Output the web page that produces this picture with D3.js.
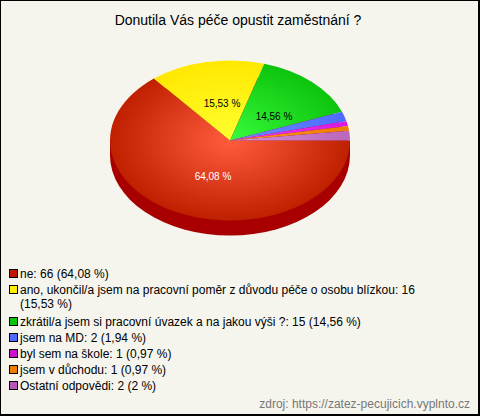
<!DOCTYPE html>
<html><head><meta charset="utf-8">
<script src="https://cdn.jsdelivr.net/npm/d3@7"></script>
<style>html,body{margin:0;padding:0;background:#f5f5ee}svg{display:block}text{font-family:"Liberation Sans",Arial,sans-serif}</style>
</head><body><svg id="c" width="480" height="416"></svg>
<script>
const titleText = "Donutila Vás péče opustit zaměstnání ?";
const counts = [66, 16, 15, 2, 1, 1, 2];
const percents = ["64,08 %", "15,53 %", "14,56 %", "1,94 %", "0,97 %", "0,97 %", "2 %"];
const legendLines = [
  ["ne: 66 (64,08 %)"],
  ["ano, ukončil/a jsem na pracovní poměr z důvodu péče o osobu blízkou: 16", "(15,53 %)"],
  ["zkrátil/a jsem si pracovní úvazek a na jakou výši ?: 15 (14,56 %)"],
  ["jsem  na MD: 2 (1,94 %)"],
  ["byl sem na škole: 1 (0,97 %)"],
  ["jsem  v důchodu: 1 (0,97 %)"],
  ["Ostatní odpovědi: 2 (2 %)"]
];
const innerColors = ["#ff5c3e", "#ffff30", "#38fb3c", "#6c8cff", "#f040f8", "#ff9a20", "#d890d8"];
const outerColors = ["#bf2000", "#ffe800", "#0cc40c", "#4c6cff", "#d818e0", "#ee7c00", "#bb66bb"];
const swatchColors = ["#bf1800", "#ffee00", "#0cc40c", "#4c6cff", "#cc10cc", "#ee7c00", "#bb55bb"];
const sideColor = "#a80000";
const sourceText = "zdroj: https://zatez-pecujicich.vyplnto.cz";

const svg = d3.select("#c");
const W = 480, H = 416, cx = 230, cy = 140.5, rx = 120, ry = 80, depth = 15;
svg.append("rect").attr("x",0.5).attr("y",0.5).attr("width",W-1.5).attr("height",H-1.5)
  .attr("fill","#f5f5ee").attr("stroke","#000").attr("stroke-width",1);
svg.append("rect").attr("x",0).attr("y",H-2).attr("width",W).attr("height",2).attr("fill","#000");
svg.append("rect").attr("x",W-2).attr("y",0).attr("width",2).attr("height",H).attr("fill","#000");

svg.append("text").attr("x",238).attr("y",25).attr("text-anchor","middle")
  .attr("font-size",14).attr("fill","#000").text(titleText);

const pie = d3.pie().sort(null).startAngle(Math.PI/2).endAngle(Math.PI*2.5);
const arcs = pie(counts);
const arc = d3.arc().innerRadius(0).outerRadius(rx);
const defs = svg.append("defs");
arcs.forEach((d,i)=>{
  const g = defs.append("radialGradient").attr("id","g"+i).attr("gradientUnits","userSpaceOnUse")
    .attr("cx",0).attr("cy",0).attr("r",rx);
  g.append("stop").attr("offset",0).attr("stop-color",innerColors[i]);
  g.append("stop").attr("offset",1).attr("stop-color",outerColors[i]);
});
// side wall
svg.append("rect").attr("x",cx-rx).attr("y",cy).attr("width",2*rx).attr("height",depth).attr("fill",sideColor);
const sideG = svg.append("g").attr("transform",`translate(${cx},${cy+depth}) scale(1,${ry/rx})`);
sideG.append("circle").attr("r",rx).attr("fill",sideColor);
const topG = svg.append("g").attr("transform",`translate(${cx},${cy}) scale(1,${ry/rx})`);
topG.selectAll("path").data(arcs).join("path").attr("d",arc).attr("fill",(d,i)=>`url(#g${i})`);

const labelXY = [[213,180],[222,107],[274,120]];
labelXY.forEach((p,i)=>{
  svg.append("text").attr("x",p[0]).attr("y",p[1]).attr("text-anchor","middle").attr("font-size",10)
    .attr("fill",i===0?"#fff":"#000").text(percents[i]);
});

const starts = [273, 289, 321, 337, 353, 369, 385];
legendLines.forEach((lines,i)=>{
  const yy = starts[i];
  svg.append("rect").attr("x",9.5).attr("y",yy-3.5).attr("width",8).attr("height",8)
    .attr("fill",swatchColors[i]).attr("stroke","#000");
  lines.forEach((t,j)=>{
    svg.append("text").attr("x",20).attr("y",yy+5+j*14).attr("font-size",12).attr("fill","#000").text(t);
  });
});
svg.append("text").attr("x",470).attr("y",408).attr("text-anchor","end").attr("font-size",12).attr("fill","#777").text(sourceText);
</script></body></html>
